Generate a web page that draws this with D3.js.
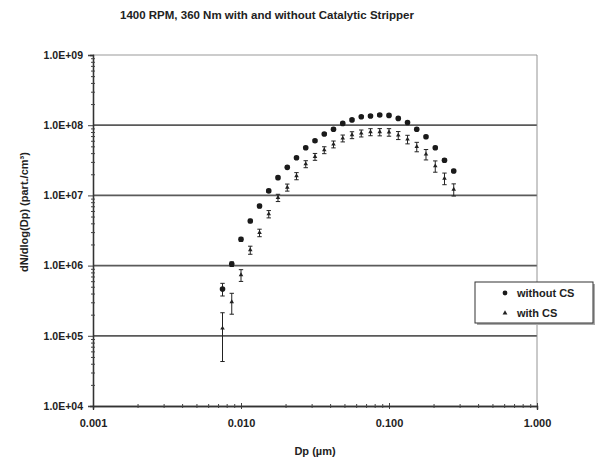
<!DOCTYPE html>
<html><head><meta charset="utf-8">
<script src="https://cdn.jsdelivr.net/npm/d3@7"></script>
<style>body{margin:0;background:#fff}svg{display:block}text{font-family:"Liberation Sans",Arial,sans-serif;fill:#222}</style>
</head><body><svg id="c" width="606" height="463"></svg>
<script>
const dp = [0.0075,0.00866,0.0100,0.01155,0.01334,0.0154,0.01778,0.02054,0.02371,0.02738,0.03162,0.03652,0.04217,0.0487,0.05623,0.06494,0.07499,0.0866,0.1000,0.1155,0.1334,0.1540,0.1778,0.2054,0.2371,0.2738];
const withoutCS = [4.64e5,1.05e6,2.37e6,4.32e6,7.06e6,1.16e7,1.79e7,2.51e7,3.44e7,4.78e7,6.01e7,7.49e7,8.74e7,1.06e8,1.19e8,1.32e8,1.35e8,1.40e8,1.38e8,1.25e8,1.09e8,8.74e7,6.86e7,4.78e7,3.16e7,2.23e7];
const withoutCSErr = [0.95e5,0.8e5,1.5e5,2.5e5,4e5,6e5,9e5,1.2e6,1.6e6,2.2e6,2.7e6,3.3e6,3.8e6,4.5e6,5e6,5.5e6,5.7e6,6e6,6e6,5.5e6,5e6,4e6,3.2e6,2.3e6,1.6e6,1.2e6];
const withCS = [1.28e5,3.03e5,7.35e5,1.67e6,2.94e6,5.43e6,9.27e6,1.30e7,1.89e7,2.80e7,3.56e7,4.43e7,5.35e7,6.51e7,7.25e7,7.67e7,8.00e7,8.00e7,7.95e7,7.18e7,6.30e7,4.94e7,3.85e7,2.62e7,1.75e7,1.22e7];
const withCSErr = [0.85e5,1.0e5,1.4e5,2.2e5,3.6e5,6.5e5,1.1e6,1.5e6,2.2e6,3.2e6,4.0e6,5.0e6,6.0e6,7.3e6,8.2e6,8.7e6,9.2e6,9.5e6,9.8e6,9.4e6,8.8e6,7.6e6,6.5e6,4.8e6,3.3e6,2.4e6];
const xTicks = [0.001,0.01,0.1,1];
const yTicks = [1e4,1e5,1e6,1e7,1e8,1e9];
const title = "1400 RPM, 360 Nm with and without Catalytic Stripper";
const xTitle = "Dp (µm)";
const yTitle = "dN/dlog(Dp) (part./cm³)";
const legendLabels = ["without CS","with CS"];

const svg = d3.select("#c");
const L=93,R=537,T=55,B=406;
const x = d3.scaleLog().domain([0.001,1]).range([L,R]);
const y = d3.scaleLog().domain([1e4,1e9]).range([B,T]);

svg.append("g").selectAll("line").data(yTicks.filter(v=>v>1e4&&v<1e9)).join("line")
  .attr("x1",L).attr("x2",R).attr("y1",d=>y(d)).attr("y2",d=>y(d))
  .attr("stroke","#5a5a5a").attr("stroke-width",1.8);
svg.append("line").attr("x1",L).attr("x2",R).attr("y1",T).attr("y2",T).attr("stroke","#9a9a9a").attr("stroke-width",1.2);
svg.append("line").attr("x1",R).attr("x2",R).attr("y1",T).attr("y2",B).attr("stroke","#888").attr("stroke-width",0.9);

const xMinor=[],yMinor=[];
for(let d=-3;d<0;d++)for(let m=2;m<10;m++)xMinor.push(m*Math.pow(10,d));
for(let d=4;d<9;d++)for(let m=2;m<10;m++)yMinor.push(m*Math.pow(10,d));

const fmtY = v => "1.0E+" + String(Math.round(Math.log10(v))).padStart(2,"0");
const gx = svg.append("g").attr("transform",`translate(0,${B})`)
  .call(d3.axisBottom(x).tickValues(xTicks).tickFormat(d3.format(".3f")).tickSize(4).tickPadding(9));
const gxm = svg.append("g").attr("transform",`translate(0,${B})`)
  .call(d3.axisBottom(x).tickValues(xMinor).tickFormat("").tickSize(3));
const gy = svg.append("g").attr("transform",`translate(${L},0)`)
  .call(d3.axisLeft(y).tickValues(yTicks).tickFormat(fmtY).tickSize(5).tickPadding(5));
const gym = svg.append("g").attr("transform",`translate(${L},0)`)
  .call(d3.axisLeft(y).tickValues(yMinor).tickFormat("").tickSize(3));
[gx,gxm,gy,gym].forEach(g=>{
  g.select(".domain").attr("stroke","#333").attr("stroke-width",1.3);
  g.selectAll(".tick line").attr("stroke","#444");
});
gx.selectAll(".tick line").attr("y1",-3).attr("y2",3);
gxm.selectAll(".tick line").attr("y1",-2).attr("y2",2);
gym.selectAll(".tick line").attr("x1",2).attr("x2",-2);
gx.selectAll("text").attr("font-size","11px").attr("font-weight","bold").attr("fill","#222");
gy.selectAll("text").attr("font-size","10.5px").attr("font-weight","bold").attr("fill","#222");

function errBars(vals,errs){
  const g=svg.append("g");
  dp.forEach((d,i)=>{
    const cx=x(d), y1=y(vals[i]+errs[i]), y2=y(Math.max(vals[i]-errs[i],1e4));
    g.append("line").attr("x1",cx).attr("x2",cx).attr("y1",y1).attr("y2",y2).attr("stroke","#222").attr("stroke-width",1);
    [y1,y2].forEach(yy=>g.append("line").attr("x1",cx-2.2).attr("x2",cx+2.2).attr("y1",yy).attr("y2",yy).attr("stroke","#222").attr("stroke-width",1));
  });
}
errBars(withCS,withCSErr);
errBars(withoutCS,withoutCSErr);

svg.append("g").selectAll("path").data(dp).join("path")
  .attr("transform",(d,i)=>`translate(${x(d)},${y(withCS[i])})`)
  .attr("d",d3.symbol(d3.symbolTriangle,9)).attr("fill","#222");
svg.append("g").selectAll("circle").data(dp).join("circle")
  .attr("cx",d=>x(d)).attr("cy",(d,i)=>y(withoutCS[i])).attr("r",2.8).attr("fill","#1a1a1a");

svg.append("text").attr("x",267).attr("y",19).attr("text-anchor","middle")
  .attr("font-size","11.5px").attr("font-weight","bold").text(title);
svg.append("text").attr("x",315).attr("y",455).attr("text-anchor","middle")
  .attr("font-size","11px").attr("font-weight","bold").text(xTitle);
svg.append("text").attr("transform","translate(28,212) rotate(-90)").attr("text-anchor","middle")
  .attr("font-size","11px").attr("font-weight","bold").text(yTitle);

const lg=svg.append("g");
lg.append("rect").attr("x",477).attr("y",284).attr("width",118).attr("height",41).attr("fill","#aaa");
lg.append("rect").attr("x",475).attr("y",282).attr("width",118).attr("height",41).attr("fill","#fff").attr("stroke","#333").attr("stroke-width",1);
lg.append("circle").attr("cx",505).attr("cy",293).attr("r",2.4).attr("fill","#1a1a1a");
lg.append("path").attr("transform","translate(505,313)").attr("d",d3.symbol(d3.symbolTriangle,10)).attr("fill","#222");
legendLabels.forEach((t,i)=>lg.append("text").attr("x",517).attr("y",297+i*20).attr("font-size","11px").attr("font-weight","bold").text(t));
</script></body></html>
